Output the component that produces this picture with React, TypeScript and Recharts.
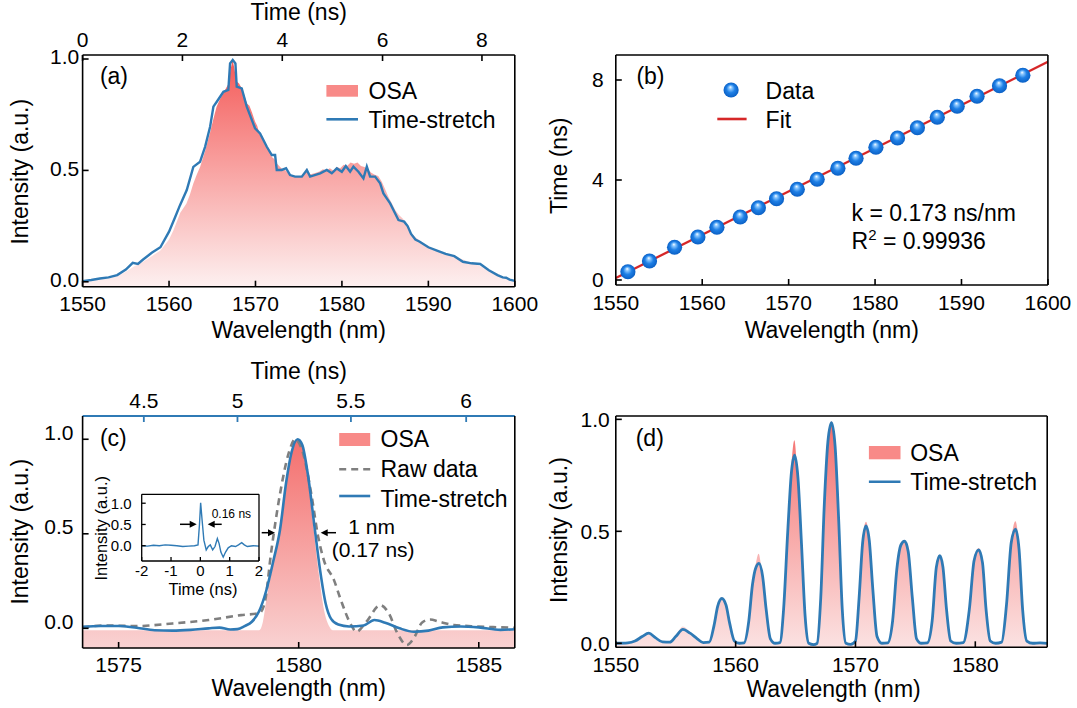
import React from 'react';
import { ComposedChart, Line, Area, Scatter, XAxis, YAxis } from 'recharts';

const FONT = '"Liberation Sans", Arial, Helvetica, sans-serif';
const BLUE = '#2f7ab5';
const BLACK = '#000';

// ---------- Panel (a) ----------
const aWavelengthTicks = [1550, 1560, 1570, 1580, 1590, 1600];
const aTimeTickLabels = ['0', '2', '4', '6', '8'];
const aTimeTickWavelengths = [1550, 1561.55, 1573.1, 1584.7, 1596.2];
const aIntensityTicks = [0, 0.5, 1];
const aOSA: [number, number][] = [
  [1550, 0.0], [1551, 0.005], [1552, 0.01], [1553, 0.015], [1554, 0.025], [1555, 0.045], [1556, 0.07],
  [1557, 0.09], [1558, 0.115], [1559, 0.14], [1560, 0.19], [1560.5, 0.23], [1561, 0.28], [1561.3, 0.31],
  [1562, 0.35], [1562.4, 0.39], [1562.8, 0.44], [1563.2, 0.48], [1563.6, 0.516], [1564.2, 0.59],
  [1564.75, 0.67], [1565.1, 0.726], [1565.5, 0.786], [1565.9, 0.82], [1566.3, 0.846], [1566.6, 0.87],
  [1566.9, 0.89], [1567.1, 0.95], [1567.35, 0.995], [1567.55, 0.96], [1567.8, 0.9], [1568.1, 0.89],
  [1568.4, 0.87], [1568.7, 0.84], [1569.0, 0.8], [1569.3, 0.79], [1569.6, 0.76], [1569.95, 0.72],
  [1570.2, 0.7], [1570.5, 0.66], [1570.9, 0.64], [1571.3, 0.61], [1571.6, 0.59], [1571.9, 0.56],
  [1572.2, 0.55], [1572.5, 0.53], [1573.0, 0.51], [1573.5, 0.5], [1574.0, 0.48], [1574.5, 0.47],
  [1575.0, 0.47], [1575.4, 0.475], [1575.7, 0.49], [1575.9, 0.51], [1576.2, 0.48], [1576.6, 0.485],
  [1577.0, 0.49], [1577.4, 0.495], [1577.8, 0.505], [1578.2, 0.5], [1578.6, 0.51], [1579.0, 0.5],
  [1579.4, 0.515], [1579.8, 0.51], [1580.2, 0.525], [1580.6, 0.52], [1581.0, 0.535], [1581.4, 0.53],
  [1581.8, 0.535], [1582.2, 0.52], [1582.6, 0.515], [1583.0, 0.505], [1583.4, 0.49], [1583.8, 0.48],
  [1584.2, 0.475], [1584.6, 0.45], [1585.0, 0.415], [1585.4, 0.38], [1585.8, 0.35], [1586.2, 0.32],
  [1586.6, 0.3], [1587, 0.285], [1587.5, 0.26], [1588, 0.22], [1588.5, 0.2], [1589, 0.185], [1590, 0.16],
  [1591, 0.14], [1592, 0.128], [1593, 0.115], [1594, 0.1], [1595, 0.085], [1596, 0.07], [1597, 0.055],
  [1598, 0.035], [1599, 0.018], [1600, 0.006],
];
const aTimeStretch: [number, number][] = [
  [1550, 0.003], [1551, 0.008], [1552, 0.015], [1553, 0.02], [1554, 0.03], [1555, 0.055], [1555.8, 0.085],
  [1556.4, 0.08], [1557, 0.1], [1558, 0.13], [1559, 0.155], [1560, 0.225], [1560.7, 0.29], [1561.27, 0.344],
  [1562.05, 0.412], [1562.81, 0.516], [1563.59, 0.539], [1564.17, 0.606], [1564.75, 0.696], [1565.13, 0.786],
  [1565.52, 0.808], [1566.29, 0.853], [1566.86, 0.861], [1567.06, 0.98], [1567.37, 0.996], [1567.68, 0.98],
  [1567.83, 0.876], [1568.41, 0.868], [1568.99, 0.786], [1569.95, 0.689], [1570.53, 0.666], [1571.31, 0.606],
  [1571.89, 0.569], [1572.27, 0.569], [1572.46, 0.502], [1573.04, 0.502], [1573.54, 0.51], [1574.0, 0.479],
  [1574.58, 0.472], [1575.36, 0.472], [1575.94, 0.502], [1576.32, 0.472], [1577.48, 0.487], [1578.25, 0.502],
  [1578.83, 0.487], [1579.41, 0.509], [1579.99, 0.494], [1580.45, 0.52], [1580.95, 0.494], [1581.33, 0.517],
  [1581.91, 0.494], [1582.49, 0.464], [1582.88, 0.517], [1583.26, 0.472], [1583.84, 0.472], [1584.42, 0.442],
  [1584.8, 0.397], [1585.58, 0.352], [1586.54, 0.277], [1587.2, 0.27], [1587.6, 0.25], [1588, 0.215],
  [1588.5, 0.19], [1589, 0.18], [1590, 0.155], [1591, 0.14], [1592, 0.125], [1593, 0.115], [1594, 0.09],
  [1595, 0.083], [1596, 0.08], [1597, 0.052], [1598, 0.03], [1598.6, 0.02], [1599, 0.018], [1599.4, 0.01],
  [1600, 0.004],
];

// ---------- Panel (b) ----------
const bWavelengthTicks = [1550, 1560, 1570, 1580, 1590, 1600];
const bTimeTicks = [0, 4, 8];
const bData: [number, number][] = [
  [1551.4, 0.33], [1553.9, 0.76], [1556.8, 1.31], [1559.5, 1.72], [1561.7, 2.11], [1564.4, 2.52],
  [1566.5, 2.89], [1568.6, 3.25], [1571.0, 3.63], [1573.3, 4.03], [1575.7, 4.47], [1577.8, 4.87],
  [1580.1, 5.31], [1582.6, 5.68], [1584.9, 6.09], [1587.2, 6.51], [1589.5, 6.95], [1591.8, 7.35],
  [1594.4, 7.77], [1597.1, 8.19],
];
const bFit: [number, number][] = [[1550, 0.08], [1600, 8.73]];

// ---------- Panel (c) ----------
const cWavelengthTicks = [1575, 1580, 1585];
const cTimeTickLabels = ['4.5', '5', '5.5', '6'];
const cTimeTickWavelengths = [1575.7, 1578.3, 1581.45, 1584.65];
const cIntensityTicks = [0, 0.5, 1];
const cOSA: [number, number][] = [
  [1574, -0.01], [1578.9, -0.01], [1579.0, 0.03], [1579.1, 0.15], [1579.3, 0.35], [1579.5, 0.55],
  [1579.7, 0.82], [1579.85, 0.96], [1579.97, 1.0], [1580.1, 0.96], [1580.25, 0.8], [1580.4, 0.55],
  [1580.55, 0.3], [1580.7, 0.1], [1580.85, 0.01], [1580.95, -0.01], [1586, -0.01],
];
const cRaw: [number, number][] = [
  [1574.0, 0.005], [1574.6, 0.015], [1575.5, 0.012], [1576.5, 0.026], [1577.5, 0.044], [1578.4, 0.07],
  [1578.9, 0.08], [1579.05, 0.13], [1579.24, 0.41], [1579.48, 0.71], [1579.72, 0.925], [1579.9, 1.0],
  [1580.1, 0.94], [1580.35, 0.71], [1580.54, 0.485], [1580.7, 0.36], [1580.98, 0.255], [1581.17, 0.15],
  [1581.45, 0.02], [1581.6, -0.018], [1581.9, 0.04], [1582.26, 0.123], [1582.5, 0.08], [1582.74, -0.026],
  [1583.0, -0.088], [1583.22, -0.044], [1583.42, 0.03], [1583.65, 0.047], [1583.9, 0.035], [1584.3, 0.018],
  [1584.95, 0.01], [1585.5, 0.006], [1586, 0.003],
];
const cTimeStretch: [number, number][] = [
  [1574.0, 0.008], [1574.5, 0.012], [1575.0, 0.012], [1575.5, 0.003], [1576.0, -0.01], [1576.5, -0.012],
  [1577.0, -0.008], [1577.5, 0.0], [1577.8, 0.004], [1578.1, -0.006], [1578.3, -0.004], [1578.5, 0.012],
  [1578.7, 0.035], [1578.9, 0.09], [1579.1, 0.2], [1579.3, 0.36], [1579.48, 0.52], [1579.65, 0.77],
  [1579.8, 0.93], [1579.97, 1.0], [1580.1, 0.97], [1580.25, 0.82], [1580.45, 0.52], [1580.6, 0.3],
  [1580.75, 0.13], [1580.9, 0.05], [1581.1, 0.02], [1581.4, 0.01], [1581.8, 0.015], [1582.1, 0.044],
  [1582.4, 0.03], [1582.8, 0.0], [1583.2, -0.018], [1583.6, -0.012], [1584.0, 0.005], [1584.5, 0.01],
  [1585.0, 0.005], [1585.6, -0.008], [1586, -0.005],
];
const insetTimeTicks = [-2, -1, 0, 1, 2];
const insetIntensityTicks = [0, 0.5, 1];
const insetPulse: [number, number][] = [
  [-2, 0.0], [-1.8, -0.01], [-1.6, 0.01], [-1.4, 0.0], [-1.2, 0.02], [-1.0, 0.01], [-0.8, 0.0],
  [-0.6, -0.02], [-0.4, -0.01], [-0.2, 0.0], [-0.08, 0.02], [-0.03, 0.5], [0.01, 1.01], [0.06, 0.6],
  [0.12, 0.13], [0.2, -0.1], [0.27, -0.02], [0.34, 0.02], [0.42, -0.1], [0.5, -0.02], [0.58, 0.17],
  [0.64, 0.05], [0.7, -0.15], [0.78, -0.27], [0.86, -0.15], [0.95, -0.05], [1.06, 0.0], [1.2, -0.02],
  [1.3, 0.02], [1.41, 0.07], [1.5, 0.02], [1.6, -0.02], [1.8, 0.0], [2, -0.01],
];

// ---------- Panel (d) ----------
const dWavelengthTicks = [1550, 1560, 1570, 1580];
const dIntensityTicks = [0, 0.5, 1];
const dOSA: [number, number][] = [
  [1550, 0], [1551, 0.002], [1551.6, 0.01], [1552.2, 0.03], [1552.75, 0.045], [1553.3, 0.025], [1553.9, 0.006],
  [1554.5, 0.006], [1555.0, 0.035], [1555.6, 0.075], [1556.2, 0.05], [1556.8, 0.02], [1557.3, 0.004],
  [1557.8, 0.006], [1558.2, 0.085], [1558.5, 0.17], [1558.85, 0.205], [1559.2, 0.17], [1559.5, 0.09],
  [1559.9, 0.01], [1560.3, 0], [1560.7, 0.003], [1561.1, 0.1], [1561.4, 0.27], [1561.7, 0.36], [1561.92, 0.4],
  [1562.2, 0.31], [1562.5, 0.16], [1562.9, 0.02], [1563.3, 0], [1563.7, 0.003], [1564.0, 0.16], [1564.35, 0.52],
  [1564.65, 0.8], [1564.9, 0.907], [1565.15, 0.77], [1565.5, 0.45], [1565.8, 0.12], [1566.1, 0], [1566.5, 0],
  [1566.8, 0.005], [1567.1, 0.21], [1567.4, 0.63], [1567.7, 0.91], [1568.0, 0.99], [1568.3, 0.89],
  [1568.6, 0.56], [1568.9, 0.16], [1569.2, 0.005], [1569.6, 0], [1570.0, 0.01], [1570.3, 0.21], [1570.6, 0.47],
  [1570.88, 0.543], [1571.15, 0.47], [1571.45, 0.25], [1571.8, 0.03], [1572.2, 0], [1572.7, 0.002],
  [1573.1, 0.1], [1573.45, 0.34], [1573.8, 0.45], [1574.1, 0.46], [1574.4, 0.42], [1574.75, 0.21],
  [1575.1, 0.02], [1575.5, 0], [1576.0, 0.002], [1576.4, 0.1], [1576.75, 0.35], [1577.04, 0.395],
  [1577.3, 0.35], [1577.6, 0.15], [1577.95, 0.01], [1578.4, 0], [1579.0, 0.003], [1579.5, 0.15],
  [1579.9, 0.38], [1580.28, 0.425], [1580.6, 0.37], [1580.9, 0.15], [1581.25, 0.01], [1581.7, 0],
  [1582.2, 0.005], [1582.6, 0.17], [1583.0, 0.46], [1583.35, 0.545], [1583.65, 0.43], [1583.95, 0.15],
  [1584.3, 0.01], [1584.8, 0], [1585.4, 0.002], [1586, 0],
];
const dTimeStretch: [number, number][] = [
  [1550, 0.0], [1551, 0.002], [1551.6, 0.01], [1552.2, 0.03], [1552.75, 0.045], [1553.3, 0.025], [1553.9, 0.006],
  [1554.5, 0.005], [1555.0, 0.03], [1555.6, 0.062], [1556.2, 0.045], [1556.8, 0.02], [1557.3, 0.003],
  [1557.8, 0.005], [1558.2, 0.08], [1558.5, 0.165], [1558.85, 0.2], [1559.2, 0.17], [1559.5, 0.09],
  [1559.9, 0.01], [1560.3, 0.0], [1560.7, 0.002], [1561.1, 0.1], [1561.4, 0.26], [1561.7, 0.34],
  [1561.95, 0.357], [1562.25, 0.3], [1562.55, 0.15], [1562.9, 0.02], [1563.3, 0.0], [1563.7, 0.003],
  [1564.0, 0.15], [1564.35, 0.5], [1564.65, 0.76], [1564.92, 0.84], [1565.2, 0.74], [1565.5, 0.44],
  [1565.8, 0.12], [1566.1, 0.0], [1566.5, -0.006], [1566.8, 0.0], [1567.1, 0.2], [1567.4, 0.62], [1567.7, 0.9],
  [1568.0, 0.985], [1568.3, 0.88], [1568.6, 0.55], [1568.9, 0.15], [1569.2, 0.0], [1569.6, -0.005],
  [1570.0, 0.01], [1570.3, 0.2], [1570.6, 0.45], [1570.88, 0.524], [1571.15, 0.46], [1571.45, 0.24],
  [1571.8, 0.03], [1572.2, 0.0], [1572.7, 0.002], [1573.1, 0.1], [1573.45, 0.33], [1573.8, 0.44],
  [1574.1, 0.456], [1574.4, 0.41], [1574.75, 0.2], [1575.1, 0.02], [1575.5, 0.0], [1576.0, 0.002],
  [1576.4, 0.1], [1576.75, 0.34], [1577.04, 0.391], [1577.3, 0.34], [1577.6, 0.15], [1577.95, 0.01],
  [1578.4, 0.0], [1579.0, 0.003], [1579.5, 0.15], [1579.9, 0.37], [1580.28, 0.417], [1580.6, 0.36],
  [1580.9, 0.15], [1581.25, 0.01], [1581.7, 0.0], [1582.2, 0.005], [1582.6, 0.17], [1583.0, 0.45],
  [1583.35, 0.51], [1583.65, 0.42], [1583.95, 0.15], [1584.3, 0.01], [1584.8, 0.0], [1585.4, 0.002],
  [1586, 0.0],
];

const pts = (arr: [number, number][]) => arr.map(([x, y]) => ({ x, y }));

const TICK = 21;
const TITLE = 23;
const axisStroke = { stroke: BLACK, strokeWidth: 1.6 };
const blueStroke = { stroke: BLUE, strokeWidth: 1.8 };
const tickFont = (size = TICK, extra: any = {}) => ({ fontSize: size, fill: BLACK, fontFamily: FONT, ...extra });
const fmt1 = (v: number) => v.toFixed(1);

const Ball = (p: any) => <circle cx={p.cx} cy={p.cy} r={7.6} fill="url(#ballGrad)" />;

function PanelA() {
  return (
    <div style={{ position: 'absolute', left: 0, top: 0 }}>
      <ComposedChart width={540} height={345} margin={{ top: 0, right: 0, bottom: 0, left: 0 }}>
        <XAxis xAxisId="b" dataKey="x" type="number" domain={[1550, 1600]} ticks={aWavelengthTicks} allowDataOverflow
          interval={0} height={58.3} tickSize={-6} tickMargin={15} axisLine={axisStroke} tickLine={axisStroke} tick={tickFont()} />
        <XAxis xAxisId="t" dataKey="x" orientation="top" type="number" domain={[1550, 1600]} ticks={aTimeTickWavelengths} allowDataOverflow
          interval={0} tickFormatter={(v: number, i: number) => aTimeTickLabels[i]}
          height={55} tickSize={-6} tickMargin={14.5} axisLine={axisStroke} tickLine={axisStroke} tick={tickFont()} />
        <YAxis yAxisId="l" type="number" domain={[-0.022, 1.018]} ticks={aIntensityTicks} allowDataOverflow interval={0}
          tickFormatter={fmt1} width={82.6} tickSize={-6} tickMargin={9.4} axisLine={axisStroke} tickLine={axisStroke}
          tick={tickFont(TICK, { dy: -2 })} />
        <YAxis yAxisId="r" orientation="right" type="number" domain={[0, 1]} tick={false} tickLine={false} width={25.2} axisLine={axisStroke} />
        <Area xAxisId="b" yAxisId="l" data={pts(aOSA)} dataKey="y" type="linear" stroke="none" fill="url(#gradA)"
          fillOpacity={1} baseValue="dataMin" isAnimationActive={false} />
        <Line xAxisId="b" yAxisId="l" data={pts(aTimeStretch)} dataKey="y" type="linear" stroke={BLUE} strokeWidth={2.4}
          dot={false} isAnimationActive={false} />
        <Line xAxisId="t" yAxisId="l" data={pts(aTimeStretch)} dataKey="y" type="linear" stroke="none" strokeWidth={0}
          dot={false} activeDot={false} legendType="none" isAnimationActive={false} />
      </ComposedChart>
    </div>
  );
}

function PanelB() {
  return (
    <div style={{ position: 'absolute', left: 540, top: 0 }}>
      <ComposedChart width={537} height={345} margin={{ top: 0, right: 0, bottom: 0, left: 0 }}>
        <XAxis xAxisId="b" dataKey="x" type="number" domain={[1550, 1600]} ticks={bWavelengthTicks} allowDataOverflow
          interval={0} height={60} tickSize={-6} tickMargin={16} axisLine={axisStroke} tickLine={axisStroke} tick={tickFont()} />
        <XAxis xAxisId="t" orientation="top" type="number" domain={[1550, 1600]} tick={false} tickLine={false} height={55} axisLine={axisStroke} />
        <YAxis yAxisId="l" type="number" domain={[-0.2, 9]} ticks={bTimeTicks} allowDataOverflow interval={0}
          width={75.8} tickSize={-6} tickMargin={18} axisLine={axisStroke} tickLine={axisStroke} tick={tickFont()} />
        <YAxis yAxisId="r" orientation="right" type="number" domain={[0, 1]} tick={false} tickLine={false} width={29.1} axisLine={axisStroke} />
        <Line xAxisId="b" yAxisId="l" data={pts(bFit)} dataKey="y" type="linear" stroke="#d62728" strokeWidth={2.3}
          dot={false} isAnimationActive={false} />
        <Scatter xAxisId="b" yAxisId="l" data={pts(bData)} dataKey="y" shape={Ball} isAnimationActive={false} />
      </ComposedChart>
    </div>
  );
}

function PanelC() {
  return (
    <div style={{ position: 'absolute', left: 0, top: 350 }}>
      <ComposedChart width={540} height={358} margin={{ top: 0, right: 0, bottom: 0, left: 0 }}>
        <XAxis xAxisId="b" dataKey="x" type="number" domain={[1574, 1586]} ticks={cWavelengthTicks} allowDataOverflow
          interval={0} height={60} tickSize={-6} tickMargin={14.7} axisLine={axisStroke} tickLine={axisStroke} tick={tickFont()} />
        <XAxis xAxisId="t" dataKey="x" orientation="top" type="number" domain={[1574, 1586]} ticks={cTimeTickWavelengths} allowDataOverflow
          interval={0} tickFormatter={(v: number, i: number) => cTimeTickLabels[i]}
          height={66} tickSize={-6} tickMargin={13.7} axisLine={blueStroke} tickLine={blueStroke} tick={tickFont()} />
        <YAxis yAxisId="l" type="number" domain={[-0.104, 1.123]} ticks={cIntensityTicks} allowDataOverflow interval={0}
          tickFormatter={fmt1} width={82.6} tickSize={-6} tickMargin={15.1} axisLine={axisStroke} tickLine={axisStroke}
          tick={tickFont(TICK, { dy: -7 })} />
        <YAxis yAxisId="r" orientation="right" type="number" domain={[0, 1]} tick={false} tickLine={false} width={25.2} axisLine={axisStroke} />
        <Area xAxisId="b" yAxisId="l" data={pts(cOSA)} dataKey="y" type="monotone" stroke="none" fill="url(#gradC)"
          fillOpacity={1} baseValue="dataMin" isAnimationActive={false} />
        <Line xAxisId="b" yAxisId="l" data={pts(cRaw)} dataKey="y" type="monotone" stroke="#7f7f7f" strokeWidth={2.6}
          strokeDasharray="7 5" dot={false} isAnimationActive={false} />
        <Line xAxisId="b" yAxisId="l" data={pts(cTimeStretch)} dataKey="y" type="monotone" stroke={BLUE} strokeWidth={2.6}
          dot={false} isAnimationActive={false} />
        <Line xAxisId="t" yAxisId="l" data={pts(cTimeStretch)} dataKey="y" type="monotone" stroke="none" strokeWidth={0}
          dot={false} activeDot={false} legendType="none" isAnimationActive={false} />
      </ComposedChart>
    </div>
  );
}

function Inset() {
  const thin = { stroke: BLACK, strokeWidth: 1.3 };
  return (
    <div style={{ position: 'absolute', left: 90, top: 480 }}>
      <ComposedChart width={180} height={120} margin={{ top: 0, right: 0, bottom: 0, left: 0 }}>
        <XAxis xAxisId="b" dataKey="x" type="number" domain={[-2, 2]} ticks={insetTimeTicks} allowDataOverflow
          interval={0} height={39} tickSize={-4} tickMargin={8} axisLine={thin} tickLine={thin} tick={tickFont(15)} />
        <XAxis xAxisId="t" orientation="top" type="number" domain={[-2, 2]} tick={false} tickLine={false} height={14.3} axisLine={thin} />
        <YAxis yAxisId="l" type="number" domain={[-0.36, 1.21]} ticks={insetIntensityTicks} allowDataOverflow interval={0}
          tickFormatter={fmt1} width={51.7} tickSize={-4} tickMargin={14} axisLine={thin} tickLine={thin} tick={tickFont(15)} />
        <YAxis yAxisId="r" orientation="right" type="number" domain={[0, 1]} tick={false} tickLine={false} width={11} axisLine={thin} />
        <Line xAxisId="b" yAxisId="l" data={pts(insetPulse)} dataKey="y" type="linear" stroke={BLUE} strokeWidth={1.4}
          dot={false} isAnimationActive={false} />
      </ComposedChart>
    </div>
  );
}

function PanelD() {
  return (
    <div style={{ position: 'absolute', left: 540, top: 350 }}>
      <ComposedChart width={537} height={358} margin={{ top: 0, right: 0, bottom: 0, left: 0 }}>
        <XAxis xAxisId="b" dataKey="x" type="number" domain={[1550, 1586]} ticks={dWavelengthTicks} allowDataOverflow
          interval={0} height={60.7} tickSize={-6} tickMargin={15.4} axisLine={axisStroke} tickLine={axisStroke} tick={tickFont()} />
        <XAxis xAxisId="t" orientation="top" type="number" domain={[1550, 1586]} tick={false} tickLine={false} height={66} axisLine={axisStroke} />
        <YAxis yAxisId="l" type="number" domain={[-0.018, 1.015]} ticks={dIntensityTicks} allowDataOverflow interval={0}
          tickFormatter={fmt1} width={75.8} tickSize={-6} tickMargin={12} axisLine={axisStroke} tickLine={axisStroke} tick={tickFont()} />
        <YAxis yAxisId="r" orientation="right" type="number" domain={[0, 1]} tick={false} tickLine={false} width={29.8} axisLine={axisStroke} />
        <Area xAxisId="b" yAxisId="l" data={pts(dOSA)} dataKey="y" type="monotone" stroke="none" fill="url(#gradD)"
          fillOpacity={1} baseValue="dataMin" isAnimationActive={false} />
        <Line xAxisId="b" yAxisId="l" data={pts(dTimeStretch)} dataKey="y" type="monotone" stroke={BLUE} strokeWidth={2.8}
          dot={false} isAnimationActive={false} />
      </ComposedChart>
    </div>
  );
}

const RArrow = ({ x1, x2, y }: { x1: number; x2: number; y: number }) => (
  <g>
    <line x1={x1} y1={y} x2={x2 - 5} y2={y} stroke={BLACK} strokeWidth={1.5} />
    <path d={`M ${x2} ${y} L ${x2 - 7} ${y - 3.5} L ${x2 - 7} ${y + 3.5} Z`} fill={BLACK} />
  </g>
);
const LArrow = ({ x1, x2, y }: { x1: number; x2: number; y: number }) => (
  <g>
    <line x1={x1} y1={y} x2={x2 + 5} y2={y} stroke={BLACK} strokeWidth={1.5} />
    <path d={`M ${x2} ${y} L ${x2 + 7} ${y - 3.5} L ${x2 + 7} ${y + 3.5} Z`} fill={BLACK} />
  </g>
);

function Overlay() {
  const T = (props: any) => <text fontSize={TITLE} fill={BLACK} {...props} />;
  const rot = (x: number, y: number, s: string, size = TITLE) => (
    <text x={x} y={y} fontSize={size} fill={BLACK} textAnchor="middle" transform={`rotate(-90 ${x} ${y})`}>{s}</text>
  );
  return (
    <svg width={1077} height={708} style={{ position: 'absolute', left: 0, top: 0, pointerEvents: 'none' }} fontFamily={FONT}>
      <defs>
        <linearGradient id="gradA" x1="0" y1="0" x2="0" y2="1">
          <stop offset="0" stopColor="#f45b59" />
          <stop offset="1" stopColor="#fdf0f0" />
        </linearGradient>
        <linearGradient id="gradC" x1="0" y1="0" x2="0" y2="1">
          <stop offset="0" stopColor="#f46f6d" />
          <stop offset="1" stopColor="#f9d2d2" />
        </linearGradient>
        <linearGradient id="gradD" x1="0" y1="0" x2="0" y2="1">
          <stop offset="0" stopColor="#f46f6d" />
          <stop offset="1" stopColor="#fbe2e2" />
        </linearGradient>
        <radialGradient id="ballGrad" cx="0.5" cy="0.5" r="0.5" fx="0.45" fy="0.3">
          <stop offset="0" stopColor="#ffffff" />
          <stop offset="0.2" stopColor="#8cc8ff" />
          <stop offset="0.55" stopColor="#1f80e6" />
          <stop offset="1" stopColor="#0a5fc4" />
        </radialGradient>
      </defs>

      {/* Panel (a) */}
      <T x={298.7} y={20} textAnchor="middle">Time (ns)</T>
      <T x={298.7} y={338} textAnchor="middle">Wavelength (nm)</T>
      {rot(28.5, 171.7, 'Intensity (a.u.)')}
      <T x={99.9} y={84}>(a)</T>
      <rect x={326.4} y={85} width={31.6} height={11.7} fill="#f88a88" />
      <T x={368.5} y={98.5}>OSA</T>
      <line x1={326.4} x2={358} y1={119.3} y2={119.3} stroke={BLUE} strokeWidth={2.6} />
      <T x={368.5} y={128}>Time-stretch</T>

      {/* Panel (b) */}
      <T x={831.8} y={338} textAnchor="middle">Wavelength (nm)</T>
      {rot(566.8, 165.8, 'Time (ns)')}
      <T x={636.4} y={84}>(b)</T>
      <circle cx={731.1} cy={90} r={7.6} fill="url(#ballGrad)" />
      <T x={765.6} y={98.5}>Data</T>
      <line x1={717.3} x2={746.6} y1={119} y2={119} stroke="#d62728" strokeWidth={2.6} />
      <T x={765.6} y={128}>Fit</T>
      <T x={851.6} y={220.5}>k = 0.173 ns/nm</T>
      <T x={851.6} y={249}>R<tspan dy={-9} fontSize={15}>2</tspan><tspan dy={9}> = 0.99936</tspan></T>

      {/* Panel (c) */}
      <T x={298.7} y={379} textAnchor="middle">Time (ns)</T>
      <T x={298.7} y={696} textAnchor="middle">Wavelength (nm)</T>
      {rot(28.5, 531.7, 'Intensity (a.u.)')}
      <T x={99.9} y={446}>(c)</T>
      <rect x={339.2} y={433} width={31} height={13} fill="#f88a88" />
      <T x={380.5} y={447}>OSA</T>
      <line x1={339.2} x2={370.2} y1={469.3} y2={469.3} stroke="#7f7f7f" strokeWidth={2.6} strokeDasharray="7 5" />
      <T x={380.5} y={477}>Raw data</T>
      <line x1={339.2} x2={370.2} y1={496} y2={496} stroke={BLUE} strokeWidth={2.6} />
      <T x={380.5} y={506.5}>Time-stretch</T>
      <RArrow x1={261.7} x2={275} y={532.7} />
      <LArrow x1={336} x2={320.7} y={532.7} />
      <T x={348.3} y={534} fontSize={21}>1 nm</T>
      <T x={331.7} y={557} fontSize={21}>(0.17 ns)</T>
      {/* inset labels */}
      {rot(106.7, 528.3, 'Intensity (a.u.)', 16.5)}
      <text x={203} y={595} fontSize={16.5} fill={BLACK} textAnchor="middle">Time (ns)</text>
      <text x={211.7} y={518.3} fontSize={12} fill={BLACK}>0.16 ns</text>
      <RArrow x1={180} x2={196.7} y={524.3} />
      <LArrow x1={221.7} x2={207.7} y={524.3} />

      {/* Panel (d) */}
      <T x={833.6} y={697} textAnchor="middle">Wavelength (nm)</T>
      {rot(566.8, 530, 'Intensity (a.u.)')}
      <T x={635.7} y={446}>(d)</T>
      <rect x={868.9} y={446} width={31.6} height={13.3} fill="#f88a88" />
      <T x={910.2} y={461}>OSA</T>
      <line x1={868.9} x2={900.5} y1={481.7} y2={481.7} stroke={BLUE} strokeWidth={2.6} />
      <T x={910.2} y={490}>Time-stretch</T>
    </svg>
  );
}

export default function App() {
  return (
    <div style={{ position: 'absolute', left: 0, top: 0, width: 1077, height: 708, background: '#fff', fontFamily: FONT }}>
      <PanelA />
      <PanelB />
      <PanelC />
      <PanelD />
      <Inset />
      <Overlay />
    </div>
  );
}
